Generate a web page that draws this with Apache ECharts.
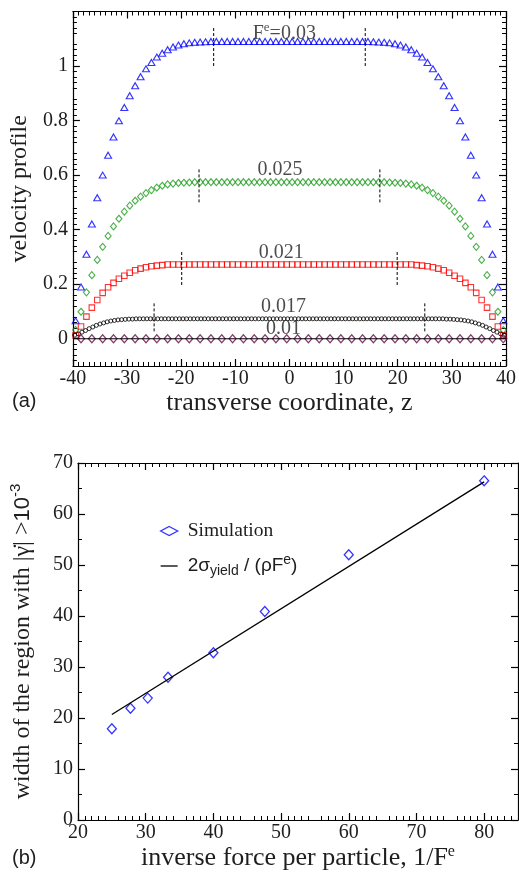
<!DOCTYPE html>
<html>
<head>
<meta charset="utf-8">
<script src="https://cdn.jsdelivr.net/npm/echarts@6/dist/echarts.min.js"></script>
<style>
html, body { margin: 0; padding: 0; background: #fff; }
#chart { width: 519px; height: 874px; }
</style>
</head>
<body>
<div id="chart"></div>
<script>
// panel (a): velocity profiles across the channel
const zFine = [
  -39.5,-38.5,-37.5,-36.5,-35.5,-34.5,-33.5,-32.5,-31.5,-30.5,
  -29.5,-28.5,-27.5,-26.5,-25.5,-24.5,-23.5,-22.5,-21.5,-20.5,
  -19.5,-18.5,-17.5,-16.5,-15.5,-14.5,-13.5,-12.5,-11.5,-10.5,
  -9.5,-8.5,-7.5,-6.5,-5.5,-4.5,-3.5,-2.5,-1.5,-0.5,
  0.5,1.5,2.5,3.5,4.5,5.5,6.5,7.5,8.5,9.5,
  10.5,11.5,12.5,13.5,14.5,15.5,16.5,17.5,18.5,19.5,
  20.5,21.5,22.5,23.5,24.5,25.5,26.5,27.5,28.5,29.5,
  30.5,31.5,32.5,33.5,34.5,35.5,36.5,37.5,38.5,39.5
];
const vel030 = [
  0.066,0.190,0.310,0.421,0.517,0.600,0.673,0.740,0.799,0.848,
  0.891,0.928,0.961,0.990,1.013,1.033,1.047,1.060,1.070,1.077,
  1.082,1.085,1.087,1.088,1.089,1.090,1.090,1.090,1.090,1.090,
  1.090,1.090,1.090,1.090,1.090,1.090,1.090,1.090,1.090,1.090,
  1.090,1.090,1.090,1.090,1.090,1.090,1.090,1.090,1.090,1.090,
  1.090,1.090,1.090,1.090,1.090,1.089,1.088,1.087,1.085,1.082,
  1.077,1.070,1.060,1.047,1.033,1.013,0.990,0.961,0.928,0.891,
  0.848,0.799,0.740,0.673,0.600,0.517,0.421,0.310,0.190,0.066
];
const vel025 = [
  0.032,0.099,0.170,0.233,0.289,0.337,0.377,0.412,0.440,0.466,
  0.488,0.506,0.521,0.534,0.545,0.554,0.561,0.566,0.569,0.571,
  0.572,0.573,0.574,0.574,0.574,0.574,0.574,0.574,0.574,0.574,
  0.574,0.574,0.574,0.574,0.574,0.574,0.574,0.574,0.574,0.574,
  0.574,0.574,0.574,0.574,0.574,0.574,0.574,0.574,0.574,0.574,
  0.574,0.574,0.574,0.574,0.574,0.574,0.574,0.574,0.573,0.572,
  0.571,0.569,0.566,0.561,0.554,0.545,0.534,0.521,0.506,0.488,
  0.466,0.440,0.412,0.377,0.337,0.289,0.233,0.170,0.099,0.032
];
const vel021 = [
  0.013,0.045,0.081,0.114,0.142,0.168,0.189,0.205,0.220,0.231,
  0.242,0.251,0.257,0.262,0.266,0.268,0.270,0.272,0.272,0.272,
  0.272,0.272,0.272,0.272,0.272,0.272,0.272,0.272,0.272,0.272,
  0.272,0.272,0.272,0.272,0.272,0.272,0.272,0.272,0.272,0.272,
  0.272,0.272,0.272,0.272,0.272,0.272,0.272,0.272,0.272,0.272,
  0.272,0.272,0.272,0.272,0.272,0.272,0.272,0.272,0.272,0.272,
  0.272,0.272,0.272,0.270,0.268,0.266,0.262,0.257,0.251,0.242,
  0.231,0.220,0.205,0.189,0.168,0.142,0.114,0.081,0.045,0.013
];
const zCircle = [
  -39.67,-39.00,-38.33,-37.67,-37.00,-36.33,-35.67,-35.00,-34.33,-33.67,
  -33.00,-32.33,-31.67,-31.00,-30.33,-29.67,-29.00,-28.33,-27.67,-27.00,
  -26.33,-25.67,-25.00,-24.33,-23.67,-23.00,-22.33,-21.67,-21.00,-20.33,
  -19.67,-19.00,-18.33,-17.67,-17.00,-16.33,-15.67,-15.00,-14.33,-13.67,
  -13.00,-12.33,-11.67,-11.00,-10.33,-9.67,-9.00,-8.33,-7.67,-7.00,
  -6.33,-5.67,-5.00,-4.33,-3.67,-3.00,-2.33,-1.67,-1.00,-0.33,
  0.33,1.00,1.67,2.33,3.00,3.67,4.33,5.00,5.67,6.33,
  7.00,7.67,8.33,9.00,9.67,10.33,11.00,11.67,12.33,13.00,
  13.67,14.33,15.00,15.67,16.33,17.00,17.67,18.33,19.00,19.67,
  20.33,21.00,21.67,22.33,23.00,23.67,24.33,25.00,25.67,26.33,
  27.00,27.67,28.33,29.00,29.67,30.33,31.00,31.67,32.33,33.00,
  33.67,34.33,35.00,35.67,36.33,37.00,37.67,38.33,39.00,39.67
];
const vel017 = [
  0.013,0.018,0.024,0.030,0.037,0.043,0.049,0.054,0.058,0.062,
  0.065,0.067,0.069,0.070,0.071,0.072,0.072,0.073,0.073,0.073,
  0.073,0.073,0.073,0.073,0.073,0.073,0.073,0.073,0.073,0.073,
  0.073,0.073,0.073,0.073,0.073,0.073,0.073,0.073,0.073,0.073,
  0.073,0.073,0.073,0.073,0.073,0.073,0.073,0.073,0.073,0.073,
  0.073,0.073,0.073,0.073,0.073,0.073,0.073,0.073,0.073,0.073,
  0.073,0.073,0.073,0.073,0.073,0.073,0.073,0.073,0.073,0.073,
  0.073,0.073,0.073,0.073,0.073,0.073,0.073,0.073,0.073,0.073,
  0.073,0.073,0.073,0.073,0.073,0.073,0.073,0.073,0.073,0.073,
  0.073,0.073,0.073,0.073,0.073,0.073,0.073,0.073,0.073,0.073,
  0.073,0.073,0.073,0.072,0.072,0.071,0.070,0.069,0.067,0.065,
  0.062,0.058,0.054,0.049,0.043,0.037,0.030,0.024,0.018,0.013
];
const zCoarse = [
  -38.5,-36.5,-34.5,-32.5,-30.5,-28.5,-26.5,-24.5,-22.5,-20.5,
  -18.5,-16.5,-14.5,-12.5,-10.5,-8.5,-6.5,-4.5,-2.5,-0.5,
  1.5,3.5,5.5,7.5,9.5,11.5,13.5,15.5,17.5,19.5,
  21.5,23.5,25.5,27.5,29.5,31.5,33.5,35.5,37.5,39.5
];
const vel010 = [
  0,0,0,0,0,0,0,0,0,0,
  0,0,0,0,0,0,0,0,0,0,
  0,0,0,0,0,0,0,0,0,0,
  0,0,0,0,0,0,0,0,0,0
];
// yield-region edges (dashed markers): half width and the y span of each marker
const edgeZ = [14, 16.7, 19.9, 25];
const edgeLow = [1.0, 0.5, 0.197, 0.027];
const edgeHigh = [1.145, 0.627, 0.321, 0.13];

// panel (b): width of the sheared region vs inverse force
const invForce = [25, 27.75, 30.3, 33.3, 40, 47.6, 60, 80];
const widthSim = [17.9, 21.9, 23.9, 28.0, 32.8, 40.9, 52.0, 66.5];
const theoryX = [25, 80];
const theoryY = [20.7, 66.3];

const zRange = [-40, 40];
const yTicksA = [0, 0.2, 0.4, 0.6, 0.8, 1];
const xTicksB = [20, 30, 40, 50, 60, 70, 80];

const SERIF = 'Liberation Serif';
const SANS = 'Liberation Sans';
const INK = '#1e1e1e';

function zip(a, b) { return a.map((v, i) => [v, b[i]]); }

// every axis gets inward major + minor ticks, like the xmgrace frame
function frameAxis(opt, majors, minorSplit) {
  let tick = { show: true, inside: true, length: 7, lineStyle: { color: '#000', width: 1.2 } };
  if (majors) tick.customValues = majors;
  return Object.assign({
    type: 'value',
    axisLine: { show: true, onZero: false, lineStyle: { color: '#000', width: 1.2 } },
    axisTick: tick,
    minorTick: { show: true, inside: true, splitNumber: minorSplit, length: 4, lineStyle: { color: '#000', width: 1 } },
    splitLine: { show: false },
    axisLabel: { show: false }
  }, opt);
}

const tickLabel = { show: true, fontFamily: SERIF, fontSize: 20, color: INK };

function hollow(color, w) {
  return { color: 'rgba(0,0,0,0)', borderColor: color, borderWidth: w };
}

let series = [
  { name: 'F0.03', type: 'scatter', xAxisIndex: 0, yAxisIndex: 0,
    data: zip(zFine, vel030), symbol: 'triangle', symbolSize: [7, 6], itemStyle: hollow('#0000ff', 1.1) },
  { name: 'F0.025', type: 'scatter', xAxisIndex: 0, yAxisIndex: 0,
    data: zip(zFine, vel025), symbol: 'diamond', symbolSize: [6, 7], itemStyle: hollow('#1a9a1a', 1.1) },
  { name: 'F0.021', type: 'scatter', xAxisIndex: 0, yAxisIndex: 0,
    data: zip(zFine, vel021), symbol: 'rect', symbolSize: 5.5, itemStyle: hollow('#ff0000', 1.1) },
  { name: 'F0.017', type: 'scatter', xAxisIndex: 0, yAxisIndex: 0,
    data: zip(zCircle, vel017), symbol: 'circle', symbolSize: 4, itemStyle: hollow('#000', 1) },
  { name: 'zero', type: 'line', xAxisIndex: 0, yAxisIndex: 0, silent: true,
    data: [[zRange[0], 0], [zRange[1], 0]], symbol: 'none',
    lineStyle: { color: '#000', width: 1.2 } },
  { name: 'F0.01', type: 'scatter', xAxisIndex: 0, yAxisIndex: 0,
    data: zip(zCoarse, vel010), symbol: 'diamond', symbolSize: [7, 8], itemStyle: hollow('#67074a', 1.2) },
  {
    name: 'labels', type: 'scatter', xAxisIndex: 0, yAxisIndex: 0,
    symbolSize: 0, silent: true,
    data: [
      [-0.95, 1.12, '{m|F}{sup|e}{m|=0.03}'],
      [-1.76, 0.62, '{m|0.025}'],
      [-1.5, 0.314, '{m|0.021}'],
      [-1.1, 0.117, '{m|0.017}'],
      [-1.1, 0.036, '{m|0.01}']
    ],
    label: {
      show: true, position: 'inside', formatter: (p) => p.data[2],
      rich: {
        m: { fontFamily: SERIF, fontSize: 20, color: INK },
        sup: { fontFamily: SERIF, fontSize: 13, color: INK, padding: [0, 0, 12, 0] }
      }
    }
  },
  { name: 'Simulation', type: 'scatter', xAxisIndex: 2, yAxisIndex: 2,
    data: zip(invForce, widthSim), symbol: 'diamond', symbolSize: [9, 10], itemStyle: hollow('#0000ff', 1.3) },
  { name: 'theory', type: 'line', xAxisIndex: 2, yAxisIndex: 2,
    data: zip(theoryX, theoryY), symbol: 'none',
    lineStyle: { color: '#000', width: 1.3 }, itemStyle: { color: '#000' } }
];

// dashed vertical markers at the edges of the yielded region
edgeZ.forEach((z, i) => {
  [-z, z].forEach((zz) => {
    series.push({
      type: 'line', xAxisIndex: 0, yAxisIndex: 0, silent: true, symbol: 'none',
      data: [[zz, edgeLow[i]], [zz, edgeHigh[i]]],
      lineStyle: { color: '#000', width: 1, type: [3, 2] }
    });
  });
});

let chart = echarts.init(document.getElementById('chart'));

chart.setOption({
  animation: false,
  backgroundColor: '#fff',
  title: [
    { text: '(a)', left: 7, top: 386, textStyle: { fontFamily: SANS, fontSize: 20, fontWeight: 'normal', color: INK } },
    { text: '(b)', left: 7, top: 843, textStyle: { fontFamily: SANS, fontSize: 20, fontWeight: 'normal', color: INK } }
  ],
  grid: [
    { left: 66.5, top: 11.5, width: 443.5, height: 354.5 },
    { left: 72.7, top: 463, width: 445.3, height: 357 }
  ],
  xAxis: [
    frameAxis({
      gridIndex: 0, position: 'bottom', min: zRange[0], max: zRange[1], interval: 10,
      axisLabel: Object.assign({ margin: 3 }, tickLabel),
      name: 'transverse coordinate, z', nameLocation: 'middle', nameGap: 17,
      nameTextStyle: { fontFamily: SERIF, fontSize: 26, color: INK }
    }, null, 10),
    frameAxis({ gridIndex: 0, position: 'top', min: zRange[0], max: zRange[1], interval: 10 }, null, 10),
    frameAxis({
      gridIndex: 1, position: 'bottom', min: 20, max: 85, interval: 5,
      axisLabel: Object.assign({ margin: 3, customValues: xTicksB }, tickLabel),
      name: '{s|inverse force per particle, 1/F}{p|e}', nameLocation: 'middle', nameGap: 22,
      nameTextStyle: {
        fontFamily: SERIF, fontSize: 26, color: INK,
        rich: {
          s: { fontFamily: SERIF, fontSize: 26, color: INK },
          p: { fontFamily: SERIF, fontSize: 16, color: INK, padding: [0, 0, 13, 0] }
        }
      }
    }, xTicksB, 5),
    frameAxis({ gridIndex: 1, position: 'top', min: 20, max: 85, interval: 5 }, xTicksB, 5)
  ],
  yAxis: [
    frameAxis({
      gridIndex: 0, position: 'left', min: -0.1, max: 1.2, interval: 0.1,
      axisLabel: Object.assign({ margin: 5, customValues: yTicksA }, tickLabel),
      name: 'velocity profile', nameLocation: 'middle', nameRotate: 90, nameGap: 34,
      nameTextStyle: { fontFamily: SERIF, fontSize: 24, color: INK }
    }, yTicksA, 5),
    frameAxis({ gridIndex: 0, position: 'right', min: -0.1, max: 1.2, interval: 0.1 }, yTicksA, 5),
    frameAxis({
      gridIndex: 1, position: 'left', min: 0, max: 70, interval: 10,
      axisLabel: Object.assign({ margin: 5 }, tickLabel),
      name: '{s|width of the region with |γ\u0307| >}{h|10}{p|-3}',
      nameLocation: 'middle', nameRotate: 90, nameGap: 40,
      nameTextStyle: {
        fontFamily: SERIF, fontSize: 24, color: INK,
        rich: {
          s: { fontFamily: SERIF, fontSize: 24, color: INK },
          h: { fontFamily: SANS, fontSize: 22, color: INK },
          p: { fontFamily: SANS, fontSize: 15, color: INK, padding: [0, 0, 15, 0] }
        }
      }
    }, null, 2),
    frameAxis({ gridIndex: 1, position: 'right', min: 0, max: 70, interval: 10 }, null, 2)
  ],
  legend: {
    orient: 'vertical', left: 155, top: 516, itemGap: 12,
    itemWidth: 17, itemHeight: 9,
    data: [
      { name: 'Simulation', icon: 'diamond', itemStyle: hollow('#0000ff', 1.3) },
      { name: 'theory', icon: 'path://M0,0H17V1.3H0Z', itemStyle: { color: '#000', borderWidth: 0 } }
    ],
    formatter: (name) => name === 'Simulation'
      ? '{t|Simulation}'
      : '{f|2σ}{sub|yield}{f| / (ρF}{sup|e}{f|)}',
    textStyle: {
      padding: [0, 0, 0, 5],
      rich: {
        t: { fontFamily: SERIF, fontSize: 19.5, color: INK, lineHeight: 22 },
        f: { fontFamily: SANS, fontSize: 19, color: INK, lineHeight: 22 },
        sub: { fontFamily: SANS, fontSize: 14, color: INK, padding: [10, 0, 0, 0] },
        sup: { fontFamily: SANS, fontSize: 14, color: INK, padding: [0, 0, 12, 0] }
      }
    }
  },
  series: series
});
</script>
</body>
</html>
